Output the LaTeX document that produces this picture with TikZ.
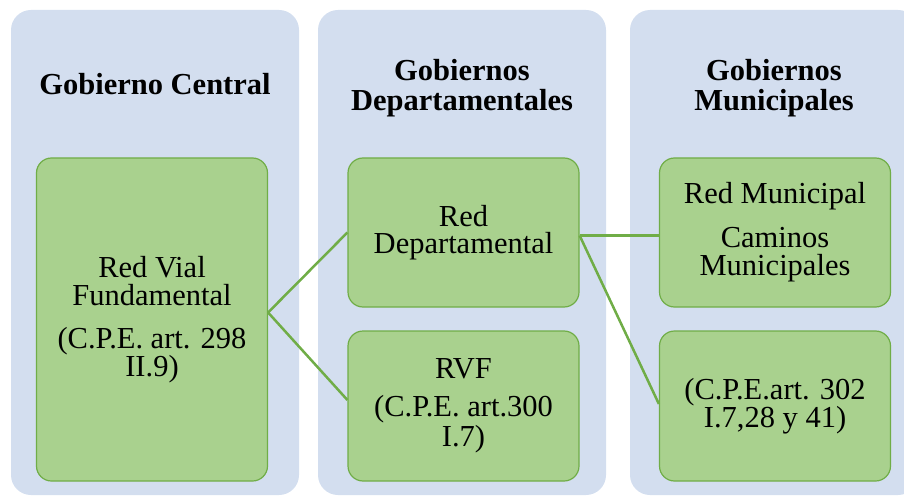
\documentclass[tikz,border=0pt]{standalone}
\usepackage{fontspec}
\setmainfont{LiberationSerif}[
    Extension=.ttf,
    UprightFont=*-Regular,
    BoldFont=*-Bold,
    ItalicFont=*-Italic,
    BoldItalicFont=*-BoldItalic]

\definecolor{colblue}{HTML}{D3DEEF}
\definecolor{boxgreen}{HTML}{A9D18E}
\definecolor{boxedge}{HTML}{70AD47}

\tikzset{
    column/.style={fill=colblue,
        rounded corners=20pt,
        minimum width=288pt,
        minimum height=485pt,
        inner sep=0pt},
    netbox/.style={fill=boxgreen,
        draw=boxedge,
        line width=1.2pt,
        rounded corners=15pt,
        minimum width=231pt,
        inner sep=0pt,
        align=center,
        font=\rmfamily\fontsize{30.5}{28.5}\selectfont},
    header/.style={align=center,
        font=\rmfamily\bfseries\fontsize{30.5}{30}\selectfont},
    link/.style={draw=boxedge, line width=2.5pt}
}

\begin{document}
\begin{tikzpicture}[x=1pt,y=1pt]

    \useasboundingbox (0,0) rectangle (904,-497);
    \clip (0,0) rectangle (904,-497);

    % Columns
    \node[column] (central_col) at (155,-252.5){};
    \node[column] (dept_col) at (462,-252.5){};
    \node[column] (muni_col) at (774,-252.5){};

    % Column titles
    \node[header] (central_title) at (155,-84){Gobierno Central};
    \node[header] (dept_title) at (462,-88){Gobiernos\\Departamentales};
    \node[header] (muni_title) at (774,-88){Gobiernos\\Municipales};

    % Gobierno Central
    \node[netbox,
        minimum height=323pt] (rvf_box) at (152,-319.5)
        {Red Vial\\Fundamental\\[14pt](C.P.E. art. 298\\II.9)};

    % Gobiernos Departamentales
    \node[netbox,
        minimum height=149pt] (dept_box) at (463.5,-232.5)
        {\raisebox{-3pt}{Red}\\[2pt]Departamental};

    \node[netbox,
        minimum height=150pt] (rvfd_box) at (463.5,-406)
        {RVF\\[9pt](C.P.E. art.300\\[2pt]I.7)};

    % Gobiernos Municipales
    \node[netbox,
        minimum height=149pt] (muni_box) at (775,-232.5)
        {Red Municipal\\[15pt]Caminos\\Municipales};

    \node[netbox,
        minimum height=150pt] (cpe_box) at (775,-406)
        {(C.P.E.art. 302\\I.7,28 y 41)};

    % Links
    \draw[link] ([yshift=7pt]rvf_box.east) -- (dept_box.west);
    \draw[link] ([yshift=7pt]rvf_box.east) -- ([yshift=6pt]rvfd_box.west);
    \draw[link] ([yshift=-3pt]dept_box.east) -- ([yshift=-3pt]muni_box.west);
    \draw[link] ([yshift=-3pt]dept_box.east) -- ([yshift=2pt]cpe_box.west);

\end{tikzpicture}
\end{document}
